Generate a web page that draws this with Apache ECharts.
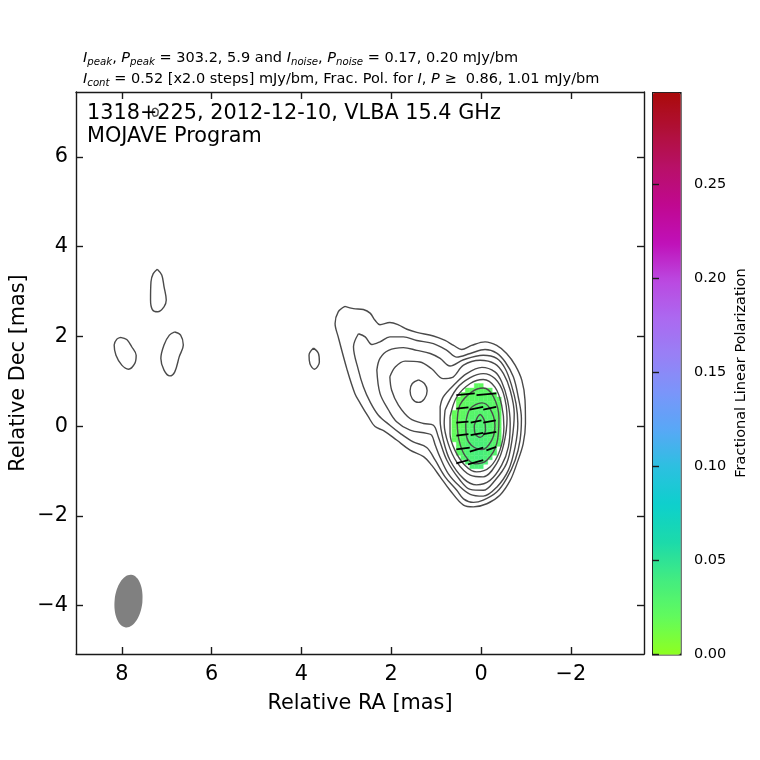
<!DOCTYPE html>
<html>
<head>
<meta charset="utf-8">
<style>
html,body{margin:0;padding:0;background:#fff;}
#chart{width:760px;height:760px;}
</style>
<script src="https://cdn.jsdelivr.net/npm/echarts@6/dist/echarts.min.js"></script>
</head>
<body>
<div id="chart"></div>
<script type="text/javascript">
// contours in mas [RA, Dec], levels 0.52 mJy/bm x2 steps
var level1 = [[3.03,2.67],[2.84,2.62],[2.62,2.60],[2.47,2.52],[2.36,2.36],[2.25,2.26],[2.03,2.31],[1.84,2.26],[1.65,2.16],[1.43,2.09],[1.06,2.01],[0.80,1.91],[0.61,1.80],[0.43,1.71],[0.21,1.80],[-0.09,1.88],[-0.35,1.80],[-0.57,1.62],[-0.76,1.36],[-0.91,1.02],[-0.98,0.58],[-0.99,0.06],[-0.94,-0.39],[-0.80,-0.83],[-0.65,-1.21],[-0.42,-1.54],[-0.13,-1.73],[0.17,-1.80],[0.39,-1.76],[0.69,-1.43],[0.91,-1.13],[1.10,-0.87],[1.28,-0.68],[1.58,-0.535],[1.88,-0.31],[2.17,-0.10],[2.36,-0.01],[2.51,0.21],[2.69,0.51],[2.81,0.73],[2.98,1.25],[3.18,1.99],[3.25,2.29],[3.18,2.55],[3.03,2.67]];
var level2 = [[2.73,2.06],[2.58,1.99],[2.43,1.82],[2.25,1.88],[2.03,1.99],[1.73,1.99],[1.43,1.91],[1.06,1.84],[0.76,1.69],[0.54,1.54],[0.24,1.62],[-0.09,1.71],[-0.35,1.63],[-0.54,1.43],[-0.72,1.10],[-0.83,0.65],[-0.90,0.17],[-0.87,-0.31],[-0.76,-0.76],[-0.57,-1.17],[-0.35,-1.47],[-0.05,-1.65],[0.17,-1.70],[0.39,-1.62],[0.54,-1.43],[0.80,-1.13],[1.02,-0.76],[1.21,-0.475],[1.51,-0.35],[1.80,-0.16],[2.03,0.02],[2.29,0.25],[2.47,0.54],[2.62,0.88],[2.73,1.25],[2.84,1.77],[2.73,2.06]];
var level3 = [[2.32,1.25],[2.25,1.51],[2.06,1.69],[1.73,1.75],[1.43,1.69],[1.13,1.62],[0.91,1.51],[0.69,1.34],[0.39,1.48],[-0.05,1.58],[-0.35,1.51],[-0.54,1.28],[-0.68,0.91],[-0.78,0.50],[-0.82,0.06],[-0.76,-0.46],[-0.61,-0.98],[-0.35,-1.36],[-0.05,-1.56],[0.24,-1.52],[0.50,-1.32],[0.73,-1.06],[0.91,-0.70],[1.02,-0.42],[1.10,-0.20],[1.21,-0.16],[1.58,-0.09],[1.88,0.10],[2.06,0.36],[2.25,0.73],[2.32,1.25]];
var level4 = [[2.03,1.10],[1.91,1.32],[1.69,1.45],[1.36,1.43],[1.10,1.28],[0.84,1.06],[0.65,1.08],[0.39,1.36],[0.02,1.47],[-0.31,1.39],[-0.50,1.17],[-0.65,0.80],[-0.74,0.28],[-0.69,-0.31],[-0.57,-0.83],[-0.31,-1.21],[-0.05,-1.43],[0.24,-1.41],[0.47,-1.20],[0.76,-0.76],[0.95,-0.24],[1.06,0.02],[1.28,0.06],[1.58,0.17],[1.84,0.47],[1.99,0.80],[2.03,1.10]];
var level5 = [[0.91,0.43],[0.84,0.65],[0.61,0.91],[0.32,1.17],[-0.02,1.31],[-0.31,1.21],[-0.46,0.99],[-0.59,0.58],[-0.65,0.06],[-0.61,-0.46],[-0.46,-0.87],[-0.20,-1.21],[0.10,-1.31],[0.39,-1.17],[0.69,-0.76],[0.84,-0.31],[0.91,0.13],[0.91,0.43]];
var level5b = [[1.39,1.03],[1.26,0.95],[1.20,0.79],[1.26,0.61],[1.39,0.53],[1.53,0.61],[1.58,0.79],[1.53,0.95],[1.39,1.03]];
var level6 = [[0.80,0.36],[0.54,0.84],[0.24,1.08],[-0.05,1.17],[-0.31,1.06],[-0.50,0.73],[-0.58,0.17],[-0.51,-0.39],[-0.35,-0.83],[-0.05,-1.13],[0.24,-1.09],[0.54,-0.80],[0.73,-0.39],[0.82,0.06],[0.80,0.36]];
var level7 = [[0.69,0.21],[0.54,0.65],[0.24,0.95],[-0.05,1.04],[-0.31,0.87],[-0.46,0.47],[-0.51,-0.02],[-0.42,-0.54],[-0.20,-0.91],[0.10,-1.02],[0.36,-0.87],[0.58,-0.54],[0.69,-0.17],[0.69,0.21]];
var level8 = [[0.53,0.06],[0.47,0.47],[0.21,0.76],[-0.05,0.85],[-0.28,0.65],[-0.40,0.17],[-0.35,-0.39],[-0.13,-0.76],[0.13,-0.84],[0.36,-0.65],[0.49,-0.31],[0.53,0.06]];
var level9 = [[0.34,0.06],[0.24,0.39],[-0.02,0.52],[-0.20,0.39],[-0.31,0.02],[-0.24,-0.31],[-0.02,-0.52],[0.21,-0.43],[0.32,-0.24],[0.34,0.06]];
var level10 = [[0.15,0.02],[0.02,0.26],[-0.08,0.11],[-0.10,-0.09],[0.02,-0.25],[0.13,-0.17],[0.15,0.02]];
// isolated lowest-level islands
var islandA = [[7.21,3.50],[7.11,3.37],[7.06,3.11],[7.01,2.81],[7.06,2.66],[7.20,2.55],[7.32,2.60],[7.36,2.81],[7.35,3.22],[7.30,3.40],[7.21,3.50]];
var islandB = [[8.03,1.98],[7.89,1.93],[7.78,1.77],[7.68,1.58],[7.71,1.40],[7.85,1.27],[8.00,1.36],[8.13,1.58],[8.17,1.81],[8.11,1.94],[8.03,1.98]];
var islandC = [[6.82,2.10],[6.69,2.03],[6.63,1.81],[6.72,1.55],[6.82,1.21],[6.93,1.12],[7.06,1.25],[7.13,1.51],[7.06,1.81],[6.94,2.03],[6.82,2.10]];
var islandD = [[3.73,1.74],[3.62,1.62],[3.60,1.43],[3.71,1.27],[3.81,1.39],[3.83,1.58],[3.73,1.74]];
var islandE = [[7.25,7.09],[7.19,7.03],[7.20,6.94],[7.28,6.91],[7.32,7.00],[7.30,7.07],[7.25,7.09]];
var contours = [level1,level2,level3,level4,level5,level5b,level6,level7,level8,level9,level10,islandA,islandB,islandC,islandD,islandE];

// fractional polarization map: rows by Dec, columns by RA
var polRa = [0.6,0.5,0.4,0.3,0.2,0.1,0,-0.1,-0.2,-0.3,-0.4];
var polDec = [0.9,0.8,0.7,0.6,0.5,0.4,0.3,0.2,0.1,0,-0.1,-0.2,-0.3,-0.4,-0.5,-0.6,-0.7,-0.8,-0.9];
var polFrac = [
  [null,null,null,null,null,.022,.022,null,null,null,null],
  [null,null,null,.020,.022,.023,.024,.024,.024,null,null],
  [null,null,.020,.021,.023,.024,.025,.025,.025,.024,null],
  [null,.019,.020,.022,.024,.025,.026,.026,.026,.025,.024],
  [null,.019,.021,.023,.025,.026,.027,.027,.026,.025,.024],
  [null,.019,.021,.024,.026,.027,.028,.028,.027,.025,.024],
  [.019,.020,.022,.025,.027,.028,.029,.029,.027,.026,.024],
  [.019,.020,.023,.026,.028,.029,.030,.029,.028,.026,.024],
  [.019,.020,.024,.027,.029,.030,.031,.030,.028,.026,.024],
  [.019,.021,.024,.028,.030,.031,.032,.031,.029,.027,.024],
  [.019,.021,.025,.028,.031,.032,.033,.032,.030,.027,.024],
  [.020,.022,.026,.029,.032,.033,.034,.033,.030,.027,.025],
  [.020,.022,.026,.030,.033,.035,.035,.034,.031,.028,.025],
  [null,.023,.027,.031,.034,.036,.036,.035,.032,.028,.026],
  [null,.024,.028,.032,.035,.037,.037,.035,.032,.029,null],
  [null,.024,.028,.032,.035,.037,.037,.035,.032,.029,null],
  [null,null,.028,.032,.035,.037,.037,.035,.032,null,null],
  [null,null,null,.032,.034,.036,.036,.034,null,null,null],
  [null,null,null,null,.033,.035,.035,null,null,null,null]
];
// polarization ticks [RA1, Dec1, RA2, Dec2]
var evpaTicks = [
  [0.55,0.69,0.14,0.73],[0.10,0.69,-0.34,0.73],
  [0.55,0.39,0.28,0.42],[0.25,0.37,-0.05,0.43],[-0.05,0.37,-0.34,0.43],
  [0.55,0.08,0.28,0.10],[0.23,0.08,-0.01,0.13],[-0.05,0.08,-0.33,0.13],
  [0.55,-0.21,0.28,-0.18],[0.23,-0.20,-0.05,-0.15],[-0.05,-0.18,-0.34,-0.13],
  [0.55,-0.52,0.25,-0.48],[0.25,-0.57,-0.05,-0.48],[-0.12,-0.54,-0.34,-0.46],
  [0.55,-0.83,0.29,-0.76],[0.29,-0.85,-0.05,-0.76]
];
// restoring beam
var beamRa = 7.85, beamDec = -3.9, beamMajor = 1.18, beamMinor = 0.62, beamPa = -6;

var raTicks = [8,6,4,2,0,-2];
var decTicks = [6,4,2,0,-2,-4];
var cbarTicks = [0,0.05,0.10,0.15,0.20,0.25];
var cbarMax = 0.2989;
// colour bar sampled every 0.02
var cbarColors = ['#8fff20','#62fb5c','#43ec80','#1cdaaa','#0dd0cc','#2cc0e0','#58a8f6','#7a95fa','#9880f5','#ac68f0','#bb48e0','#c010b8','#c00890','#b81068','#b01038','#aa0a0a'];

var FONT = 'DejaVu Sans';
var INK = '#1a1a1a';

function minus(v) { return String(v).replace('-', '\u2212'); }

var polCells = [];
for (var r = 0; r < polDec.length; r++) {
  for (var c = 0; c < polRa.length; c++) {
    if (polFrac[r][c] !== null) polCells.push([polRa[c], polDec[r], polFrac[r][c]]);
  }
}

function frameAxis(pos, ticks, labels, name, gap, lo, hi, inverse) {
  return {
    type: 'value', position: pos, min: lo, max: hi, inverse: inverse,
    name: name, nameLocation: 'middle', nameGap: gap, nameMoveOverlap: false,
    nameTextStyle: {fontFamily: FONT, fontSize: 20.8, color: '#000'},
    splitLine: {show: false},
    axisLine: {show: true, onZero: false, lineStyle: {color: INK, width: 1.4}},
    axisTick: {show: true, inside: true, length: 7, customValues: ticks, lineStyle: {color: INK, width: 1.4}},
    axisLabel: {show: labels, customValues: ticks, margin: 8, padding: [2, 0, 0, 0], formatter: minus, fontFamily: FONT, fontSize: 20.8, color: '#000'}
  };
}

var series = [{
  type: 'custom', coordinateSystem: 'cartesian2d', xAxisIndex: 0, yAxisIndex: 0, silent: true, z: 1,
  data: polCells, encode: {x: 0, y: 1},
  renderItem: function (params, api) {
    var p0 = api.coord([api.value(0) + 0.05, api.value(1) + 0.05]);
    var p1 = api.coord([api.value(0) - 0.05, api.value(1) - 0.05]);
    var col = api.visual('color');
    return {type: 'rect', shape: {x: p0[0], y: p0[1], width: p1[0] - p0[0], height: p1[1] - p0[1]}, style: {fill: col, stroke: col, lineWidth: 0.4}};
  }
}, {
  type: 'custom', coordinateSystem: 'cartesian2d', xAxisIndex: 0, yAxisIndex: 0, silent: true, z: 1,
  data: [[beamRa, beamDec, beamMajor, beamMinor, beamPa]], encode: {x: 0, y: 1},
  renderItem: function (params, api) {
    var c = api.coord([api.value(0), api.value(1)]);
    var s = api.size([api.value(3), api.value(2)]);
    return {type: 'ellipse', x: c[0], y: c[1], rotation: api.value(4) * Math.PI / 180,
      shape: {cx: 0, cy: 0, rx: s[0] / 2, ry: s[1] / 2}, style: {fill: '#808080'}};
  }
}];

contours.forEach(function (pts) {
  series.push({
    type: 'line', xAxisIndex: 0, yAxisIndex: 0, data: pts, showSymbol: false, symbol: 'none', smooth: 0.35, silent: true, z: 3,
    lineStyle: {color: '#4a4a4a', width: 1.4}
  });
});

series.push({
  type: 'lines', coordinateSystem: 'cartesian2d', xAxisIndex: 0, yAxisIndex: 0, silent: true, z: 4,
  data: evpaTicks.map(function (t) { return {coords: [[t[0], t[1]], [t[2], t[3]]]}; }),
  lineStyle: {color: '#000', width: 1.8, opacity: 1}
});

var topLine1 = '{i|I}{s|peak}{t|, }{i|P}{s|peak}{t| = 303.2, 5.9 and }{i|I}{s|noise}{t|, }{i|P}{s|noise}{t| = 0.17, 0.20 mJy/bm}';
var topLine2 = '{i|I}{s|cont}{t| = 0.52 [x2.0 steps] mJy/bm, Frac. Pol. for }{i|I}{t|, }{i|P}{t| \u2265  0.86, 1.01 mJy/bm}';
var topRich = {
  t: {fontFamily: FONT, fontSize: 14.5, lineHeight: 18, verticalAlign: 'middle', fill: '#000'},
  i: {fontFamily: FONT, fontSize: 14.5, fontStyle: 'italic', lineHeight: 18, verticalAlign: 'middle', fill: '#000'},
  s: {fontFamily: FONT, fontSize: 10.2, fontStyle: 'italic', lineHeight: 12, verticalAlign: 'bottom', fill: '#000'}
};

var chart = echarts.init(document.getElementById('chart'), null, {renderer: 'canvas'});
chart.setOption({
  animation: false,
  backgroundColor: '#fff',
  grid: [
    {left: 76, top: 92, width: 568, height: 562, outerBoundsMode: 'none'},
    {left: 652, top: 92, width: 28, height: 562, outerBoundsMode: 'none'}
  ],
  xAxis: [
    frameAxis('bottom', raTicks, true, 'Relative RA [mas]', 39, -3.63, 9.02, true),
    frameAxis('top', raTicks, false, '', 0, -3.63, 9.02, true),
    {gridIndex: 1, type: 'value', show: false, min: 0, max: 1}
  ],
  yAxis: [
    frameAxis('left', decTicks, true, 'Relative Dec [mas]', 47, -5.08, 7.45, false),
    frameAxis('right', decTicks, false, '', 0, -5.08, 7.45, false),
    {
      gridIndex: 1, type: 'value', position: 'right', min: 0, max: cbarMax, z: 10,
      name: 'Fractional Linear Polarization', nameLocation: 'middle', nameGap: 54, nameRotate: 90, nameMoveOverlap: false,
      nameTextStyle: {fontFamily: FONT, fontSize: 14.5, color: '#000'},
      splitLine: {show: false},
      axisLine: {show: false},
      axisTick: {show: true, inside: false, length: 7, customValues: cbarTicks, lineStyle: {color: INK, width: 1.4}},
      axisLabel: {customValues: cbarTicks, margin: 14, padding: [3, 0, 0, 0], fontFamily: FONT, fontSize: 14.5, color: '#000',
        formatter: function (v) { return v.toFixed(2); }}
    }
  ],
  visualMap: {
    type: 'continuous', seriesIndex: 0, dimension: 2, min: 0, max: cbarMax,
    left: 652, top: 92, itemWidth: 28, itemHeight: 562, padding: 0,
    text: null, calculable: false, hoverLink: false, realtime: false,
    borderColor: INK, borderWidth: 1.6,
    inRange: {color: cbarColors}
  },
  graphic: [
    {type: 'text', left: 83, top: 51, silent: true, style: {text: topLine1, rich: topRich}},
    {type: 'text', left: 83, top: 72, silent: true, style: {text: topLine2, rich: topRich}},
    {type: 'text', left: 87, top: 103, z: 100, silent: true, style: {text: '1318+225, 2012-12-10, VLBA 15.4 GHz', font: '20.8px "DejaVu Sans"', fill: '#000'}},
    {type: 'text', left: 87, top: 126, z: 100, silent: true, style: {text: 'MOJAVE Program', font: '20.8px "DejaVu Sans"', fill: '#000'}}
  ],
  series: series
});
</script>
</body>
</html>
